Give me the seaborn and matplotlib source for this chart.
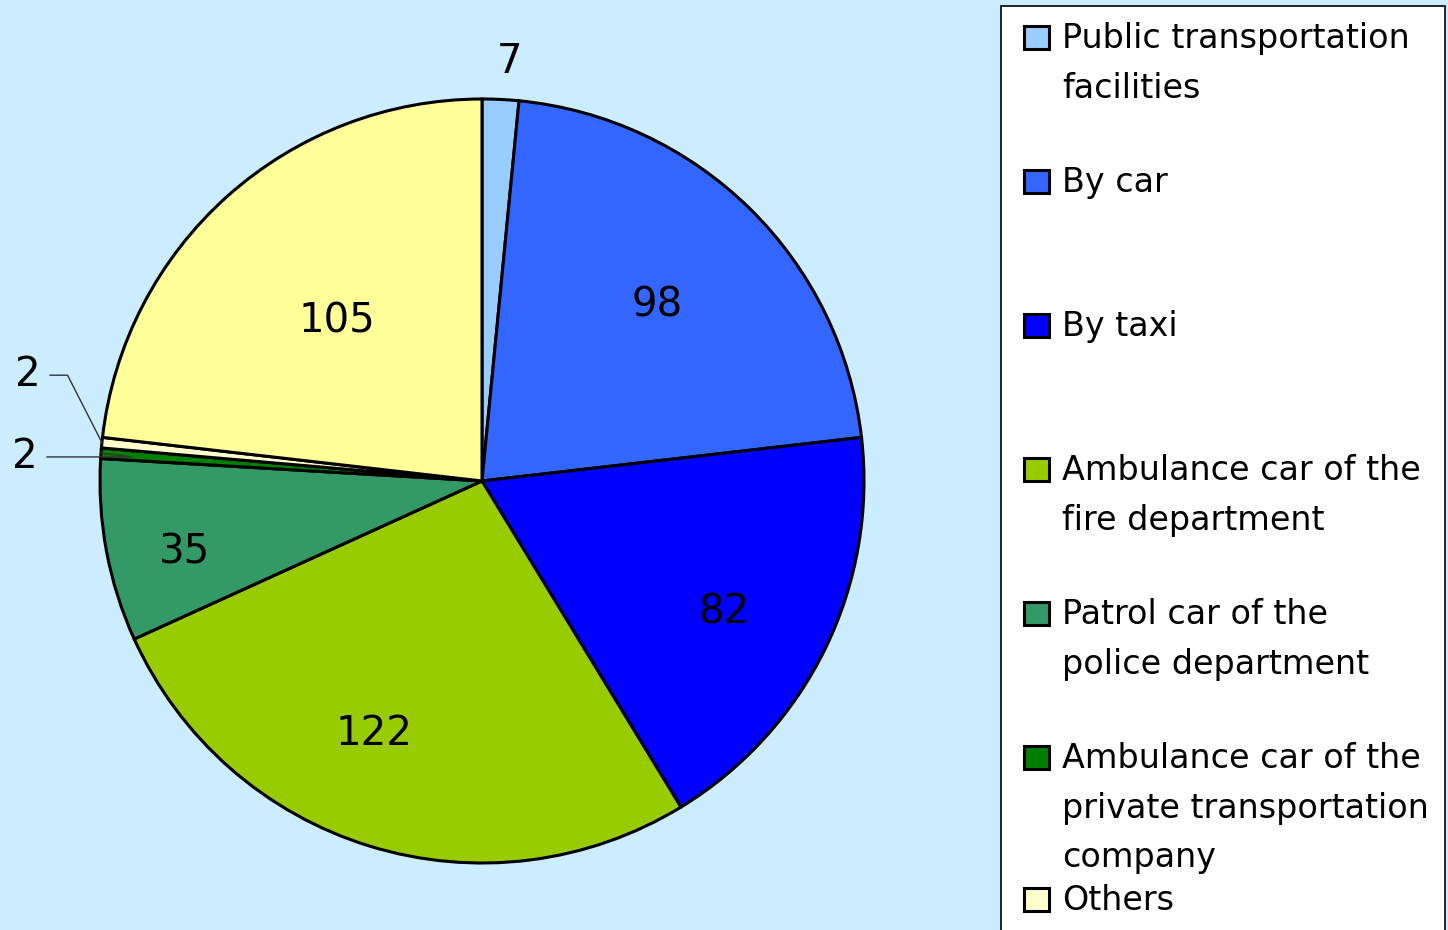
import matplotlib
matplotlib.use('Agg')
import matplotlib.pyplot as plt
import numpy as np
import seaborn as sns
from matplotlib.patches import Rectangle

sns.set_theme(style='white')
plt.rcParams['font.family'] = ['DejaVu Sans', 'Noto Sans CJK JP']

# slices, clockwise from 12 o'clock
values = [7, 98, 82, 122, 35, 2, 2, 105]
colors = ['#99CCFF', '#3366FF', '#0000FF', '#99CC00', '#339966', '#008000', '#FFFFCC', '#FFFF99']
legend_labels = [
    'Public transportation\nfacilities',
    'By car',
    'By taxi',
    'Ambulance car of the\nfire department',
    'Patrol car of the\npolice department',
    'Ambulance car of the\nprivate transportation\ncompany',
    'Others',
]
legend_colors = colors[:7]

bg = '#CCECFF'
W, H = 1448, 930

fig = plt.figure(figsize=(W / 100, H / 100), dpi=100, facecolor=bg)
ax = fig.add_axes([100 / W, 67 / H, 764 / W, 764 / H])
ax.set_facecolor(bg)

wedges, _ = ax.pie(values, colors=colors, startangle=90, counterclock=False,
                   wedgeprops=dict(edgecolor='black', linewidth=2.2))
ax.set_xlim(-1, 1)
ax.set_ylim(-1, 1)
ax.axis('off')

# label radius / angle nudge per slice (None -> leader line label)
label_r = [1.10, 0.65, 0.72, 0.72, 0.80, None, None, 0.565]
label_da = [-1, -0.5, -2.5, -6, 3, 0, 0, 0.5]
leader_text = {5: (-1.196, 0.063), 6: (-1.188, 0.277)}
leader_angle = {5: 173, 6: 117}

for i, (w, v) in enumerate(zip(wedges, values)):
    mid = np.deg2rad((w.theta1 + w.theta2) / 2 + label_da[i])
    if label_r[i] is not None:
        r = label_r[i]
        ax.text(r * np.cos(mid), r * np.sin(mid), str(v), ha='center', va='center',
                fontsize=29, color='black')
    else:
        edge = (np.cos(mid), np.sin(mid))
        ax.annotate(str(v), xy=edge, xytext=leader_text[i], ha='center', va='center',
                    fontsize=29, color='black', annotation_clip=False,
                    arrowprops=dict(arrowstyle='-', color='#333333', lw=1,
                                    shrinkA=4, shrinkB=0,
                                    connectionstyle=f'angle,angleA=0,angleB={leader_angle[i]},rad=0'))

# legend box, cut off by the bottom edge like the original
fig.patches.append(Rectangle((1001 / W, -0.05), 444 / W, (H - 6) / H + 0.05,
                             transform=fig.transFigure, facecolor='white',
                             edgecolor='black', linewidth=1.2, zorder=1))

for i, (lab, col) in enumerate(zip(legend_labels, legend_colors)):
    y = 37 + 144 * i
    if i == 6:
        y = 899
    fig.patches.append(Rectangle((1024 / W, 1 - (y + 12) / H), 25 / W, 23 / H,
                                 transform=fig.transFigure, facecolor=col,
                                 edgecolor='black', linewidth=2.2, zorder=2))
    fig.text(1062 / W, 1 - (y - 15) / H, lab, ha='left', va='top', fontsize=24,
             linespacing=1.64, color='black', zorder=3)

fig.savefig('out.png', dpi=100, facecolor=bg)
